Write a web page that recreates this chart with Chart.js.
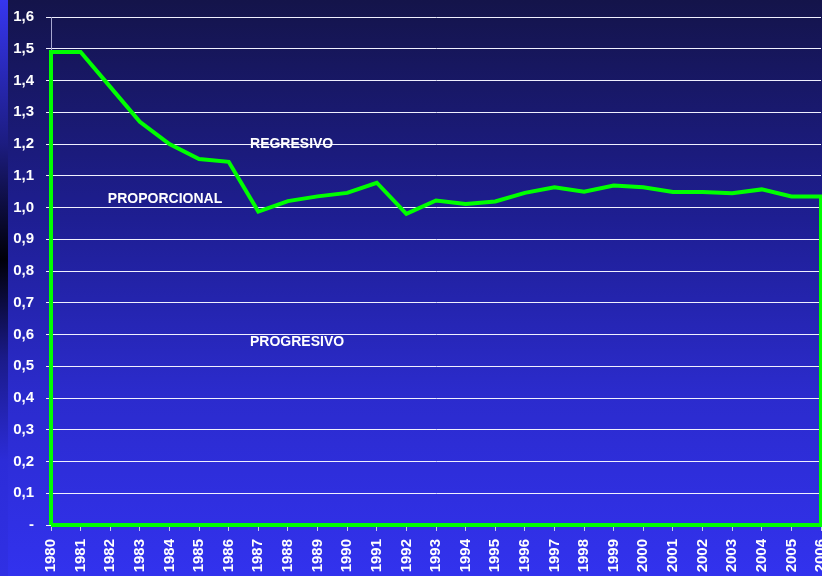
<!DOCTYPE html>
<html>
<head>
<meta charset="utf-8">
<script src="https://cdn.jsdelivr.net/npm/chart.js@4/dist/chart.umd.min.js"></script>
<style>
    html, body { margin: 0; padding: 0; }
    body {
        width: 822px; height: 576px; overflow: hidden; position: relative;
        background: linear-gradient(to bottom, #14144a 0%, #1e1e92 38%, #2b2bcc 68%, #3232ee 100%);
    }
    #edge {
        position: absolute; left: 0; top: 0; width: 8px; height: 576px;
        background: linear-gradient(to bottom, #3636f0 0%, #1c1c80 25%, #000008 45%, #1a1a88 62%, #2c2cd8 80%, #3030e4 100%);
    }
    #wrap { position: absolute; left: 0; top: 0; width: 822px; height: 576px; }
</style>
</head>
<body>
<div id="edge"></div>
<div id="wrap"><canvas id="progChart"></canvas></div>
<script>
const years = [1980, 1981, 1982, 1983, 1984, 1985, 1986, 1987, 1988, 1989, 1990, 1991, 1992, 1993,
    1994, 1995, 1996, 1997, 1998, 1999, 2000, 2001, 2002, 2003, 2004, 2005, 2006];
const values = [1.49, 1.49, 1.38, 1.27, 1.20, 1.153, 1.144, 0.987, 1.02, 1.035, 1.046, 1.078, 0.98, 1.022,
    1.011, 1.019, 1.046, 1.064, 1.05, 1.069, 1.064, 1.049, 1.049, 1.045, 1.057, 1.035, 1.035];
const zoneLabels = ['REGRESIVO', 'PROPORCIONAL', 'PROGRESIVO'];
const zoneX = [1986.72, 1981.92, 1986.72];
const zoneY = [1.2, 1.025, 0.575];

// closed outline: up from zero at the first year, along the series, down to zero, back along the base
const first = years[0];
const last = years[years.length - 1];
const outline = [{ x: first, y: 0 }]
    .concat(years.map((yr, i) => ({ x: yr, y: values[i] })))
    .concat([{ x: last, y: 0 }, { x: first, y: 0 }]);

const zoneTextPlugin = {
    id: 'zoneText',
    afterDatasetsDraw(chart) {
        const ctx = chart.ctx;
        const xs = chart.scales.x;
        const ys = chart.scales.y;
        ctx.save();
        ctx.font = 'bold 14px "Liberation Sans", Arial, sans-serif';
        ctx.fillStyle = '#ffffff';
        ctx.textAlign = 'left';
        ctx.textBaseline = 'middle';
        zoneLabels.forEach((txt, i) => {
            ctx.fillText(txt, xs.getPixelForValue(zoneX[i]), ys.getPixelForValue(zoneY[i]));
        });
        ctx.restore();
    }
};

new Chart(document.getElementById('progChart').getContext('2d'), {
    type: 'line',
    data: {
        datasets: [{
            data: outline,
            borderColor: '#00ff00',
            borderWidth: 4,
            pointRadius: 0,
            tension: 0,
            fill: false,
            clip: false
        }]
    },
    plugins: [zoneTextPlugin],
    options: {
        responsive: true,
        maintainAspectRatio: false,
        animation: false,
        layout: { padding: { top: 17, right: 1, left: 0, bottom: 0 } },
        plugins: {
            legend: { display: false },
            tooltip: { enabled: false }
        },
        scales: {
            x: {
                type: 'linear',
                min: first,
                max: last,
                afterFit: (scale) => {
                    scale.height = 51;
                    scale.paddingRight = 0;
                    scale.paddingLeft = 0;
                },
                afterBuildTicks: (scale) => { scale.ticks = years.map(v => ({ value: v })); },
                grid: {
                    drawOnChartArea: false,
                    drawTicks: true,
                    tickLength: 6,
                    color: '#c8c8f0'
                },
                border: { display: false },
                ticks: {
                    color: '#ffffff',
                    font: { family: '"Liberation Sans", Arial, sans-serif', size: 15, weight: 'bold' },
                    minRotation: 90,
                    maxRotation: 90,
                    autoSkip: false,
                    padding: 8,
                    callback: (v) => String(v)
                }
            },
            y: {
                min: 0,
                max: 1.6,
                afterFit: (scale) => {
                    scale.width = 51;
                    scale.paddingTop = 0;
                    scale.paddingBottom = 0;
                },
                grid: {
                    color: '#f0f0ff',
                    lineWidth: 1,
                    tickLength: 5
                },
                border: { display: true, color: '#a8a8d0', width: 1 },
                ticks: {
                    stepSize: 0.1,
                    color: '#ffffff',
                    padding: 12,
                    font: { family: '"Liberation Sans", Arial, sans-serif', size: 15, weight: 'bold' },
                    callback: (v) => v === 0 ? '-' : Number(v).toFixed(1).replace('.', ',')
                }
            }
        }
    }
});
</script>
</body>
</html>
